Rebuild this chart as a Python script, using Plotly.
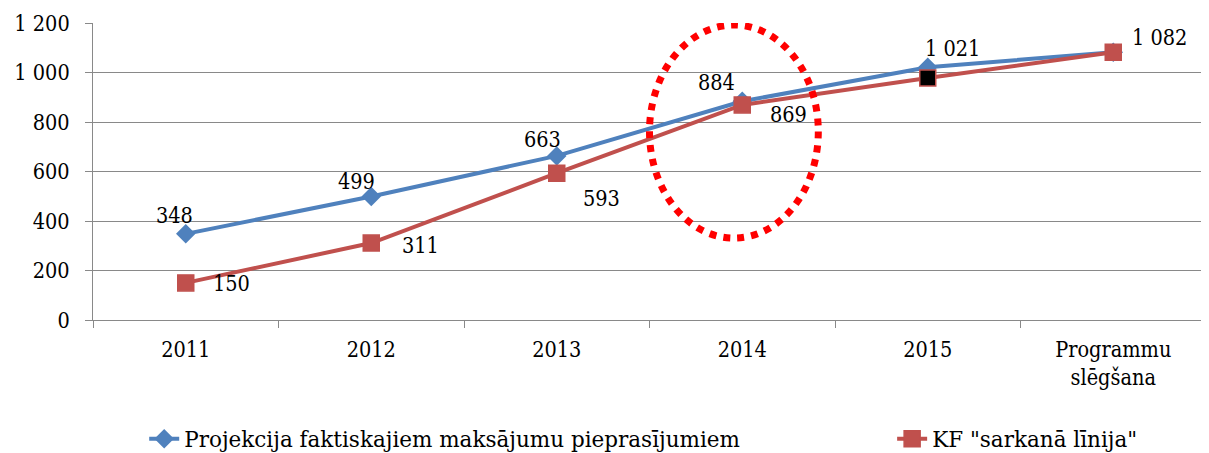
import plotly.graph_objects as go

categories = ["2011", "2012", "2013", "2014", "2015", "Programmu<br>slēgšana"]
proj_values = [348, 499, 663, 884, 1021, 1082]
kf_values = [150, 311, 593, 869, 978, 1082]
proj_show = [True, True, True, True, True, False]
kf_show = [True, True, True, True, False, True]
y_ticks = [0, 200, 400, 600, 800, 1000, 1200]
y_ticktext = ["0", "200", "400", "600", "800", "1 000", "1 200"]
proj_name = "Projekcija faktiskajiem maksājumu pieprasījumiem"
kf_name = 'KF "sarkanā līnija"'

BLUE = "#4F81BD"
RED = "#C0504D"
FONT = "DejaVu Serif Condensed, DejaVu Serif"
LFONT = "DejaVu Serif"
FS = 21.5

def fmt(v):
    return f"{v:,}".replace(",", " ")

fig = go.Figure()
fig.add_trace(go.Scatter(
    x=categories, y=proj_values, name=proj_name, mode="lines+markers",
    line=dict(color=BLUE, width=4),
    marker=dict(symbol="diamond", size=15, color=BLUE),
    legend="legend",
))
kf_colors = [RED] * len(kf_values)
kf_colors[4] = "#000000"
fig.add_trace(go.Scatter(
    x=categories, y=kf_values, name=kf_name, mode="lines+markers",
    line=dict(color=RED, width=4),
    marker=dict(symbol="square", size=16, color=kf_colors, line=dict(color=RED, width=1.5)),
    legend="legend2",
))

proj_off = [(-11, 18), (-15, 15), (-14, 16), (-26, 19), (25, 19), (0, 0)]
kf_off = [(46, -1), (49, -2), (45, -25), (46, -10), (0, 0), (46, 15)]
annotations = []
for i, c in enumerate(categories):
    if proj_show[i]:
        annotations.append(dict(x=i, y=proj_values[i], text=fmt(proj_values[i]), showarrow=False,
                                xshift=proj_off[i][0], yshift=proj_off[i][1],
                                font=dict(family=FONT, size=FS, color="black")))
    if kf_show[i]:
        annotations.append(dict(x=i, y=kf_values[i], text=fmt(kf_values[i]), showarrow=False,
                                xshift=kf_off[i][0], yshift=kf_off[i][1],
                                font=dict(family=FONT, size=FS, color="black")))

legend_font = dict(family=LFONT, size=21.5, color="black")
fig.update_layout(
    width=1201, height=445,
    margin=dict(l=85, r=3, t=15, b=133, autoexpand=False),
    paper_bgcolor="white", plot_bgcolor="white",
    font=dict(family=FONT, size=FS, color="black"),
    showlegend=True,
    legend=dict(orientation="h", x=0.046, xanchor="left", y=-0.40, yanchor="middle",
                font=legend_font, bgcolor="rgba(0,0,0,0)"),
    legend2=dict(orientation="h", x=0.718, xanchor="left", y=-0.40, yanchor="middle",
                 font=legend_font, bgcolor="rgba(0,0,0,0)"),
    annotations=annotations,
    shapes=[dict(type="circle", xref="x", yref="y", x0=2.5, x1=3.41, y0=331, y1=1192,
                 line=dict(color="#FF0000", width=7, dash="dot"))],
)
fig.update_xaxes(
    type="category", showgrid=False, showline=True, linecolor="#898989", linewidth=1,
    ticks="outside", tickson="boundaries", ticklen=7, tickcolor="#898989",
    ticklabelstandoff=10, range=[-0.5, 5.5],
    tickfont=dict(family=FONT, size=FS),
)
fig.update_yaxes(
    range=[0, 1200], tickvals=y_ticks, ticktext=y_ticktext,
    showgrid=True, gridcolor="#898989", gridwidth=1,
    showline=True, linecolor="#898989", linewidth=1,
    ticks="outside", ticklen=7, tickcolor="#898989", ticklabelstandoff=11,
    zeroline=False, tickfont=dict(family=FONT, size=FS),
)
fig.write_html("out.html")
